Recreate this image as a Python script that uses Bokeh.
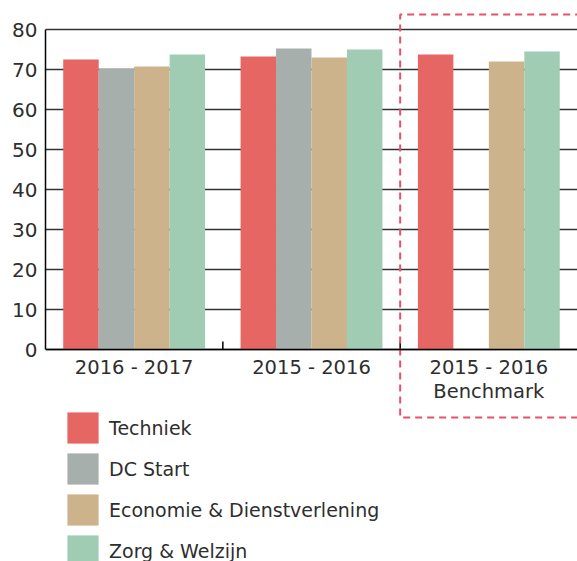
from bokeh.plotting import figure
from bokeh.models import (FactorRange, Range1d, FixedTicker, Legend, LegendItem,
                          ColumnDataSource)
from bokeh.transform import dodge
from bokeh.embed import file_html
from bokeh.resources import INLINE

nan = float("nan")

categories = ["2016 - 2017", "2015 - 2016", "2015 - 2016\nBenchmark"]
series = ["Techniek", "DC Start", "Economie & Dienstverlening", "Zorg & Welzijn"]
techniek = [72.5, 73.25, 73.75]
dc_start = [70.25, 75.25, nan]
economie = [70.75, 73.0, 72.0]
zorg = [73.75, 75.0, 74.5]
colors = ["#E66664", "#A7AFAD", "#CDB38C", "#A0CCB4"]
y_ticks = [0, 10, 20, 30, 40, 50, 60, 70, 80]

FONT = "DejaVu Sans"
TXT = "#2E2E2E"

src = ColumnDataSource(dict(cat=categories, t=techniek, d=dc_start, e=economie, z=zorg))

p = figure(x_range=FactorRange(*categories, range_padding=0), y_range=Range1d(-53, 87.25),
           width=577, height=561, output_backend="svg", toolbar_location=None,
           min_border_left=45, min_border_right=0, min_border_top=0, min_border_bottom=0)
p.outline_line_color = None
p.background_fill_color = "white"
p.border_fill_color = "white"

cols = ["t", "d", "e", "z"]
offsets = [-0.3, -0.1, 0.1, 0.3]
renderers = []
for c, off, col in zip(cols, offsets, colors):
    r = p.vbar(x=dodge("cat", off, range=p.x_range), top=c, width=0.2, source=src,
               fill_color=col, line_color=None)
    renderers.append(r)

# boundary ticks between categories (pointing up)
bx = list(range(1, len(categories)))
p.segment(x0=bx, x1=bx, y0=[0] * len(bx), y1=[2] * len(bx), line_color="black", line_width=1.5)

# dashed benchmark box (open on the right, runs off the frame)
n = len(categories)
box_top, box_bottom = 83.75, -17
p.line(x=[n + 0.5, n - 1, n - 1, n + 0.5], y=[box_top, box_top, box_bottom, box_bottom],
       line_color="#E5536B", line_dash="7 5", line_width=2)

# axes
p.xgrid.visible = False
p.ygrid.grid_line_color = "#333333"
p.ygrid.grid_line_width = 1.5
p.yaxis.ticker = FixedTicker(ticks=y_ticks)
p.yaxis.bounds = (0, 80)
p.yaxis.axis_line_color = "black"
p.yaxis.axis_line_width = 1.5
p.yaxis.major_tick_out = 0
p.yaxis.major_tick_in = 0
p.yaxis.minor_tick_line_color = None
p.yaxis.major_label_standoff = 8
p.yaxis.major_label_text_font = FONT
p.yaxis.major_label_text_font_size = "20px"
p.yaxis.major_label_text_color = TXT

p.xaxis.fixed_location = 0
p.xaxis.axis_line_color = "black"
p.xaxis.axis_line_width = 1.5
p.xaxis.major_tick_out = 0
p.xaxis.major_tick_in = 0
p.xaxis.major_label_standoff = 6
p.xaxis.major_label_text_font = FONT
p.xaxis.major_label_text_font_size = "19.5px"
p.xaxis.major_label_text_color = TXT
p.xaxis.major_label_text_line_height = 1.085

legend = Legend(items=[LegendItem(label=s, renderers=[r]) for s, r in zip(series, renderers)],
                location=(18, -9), orientation="vertical",
                glyph_width=39, glyph_height=39, spacing=2, padding=0, margin=0,
                label_standoff=7, label_text_font=FONT, label_text_font_size="19px",
                label_text_color=TXT, border_line_color=None, background_fill_alpha=0)
p.add_layout(legend)

open("out.html", "w").write(file_html(p, INLINE))
